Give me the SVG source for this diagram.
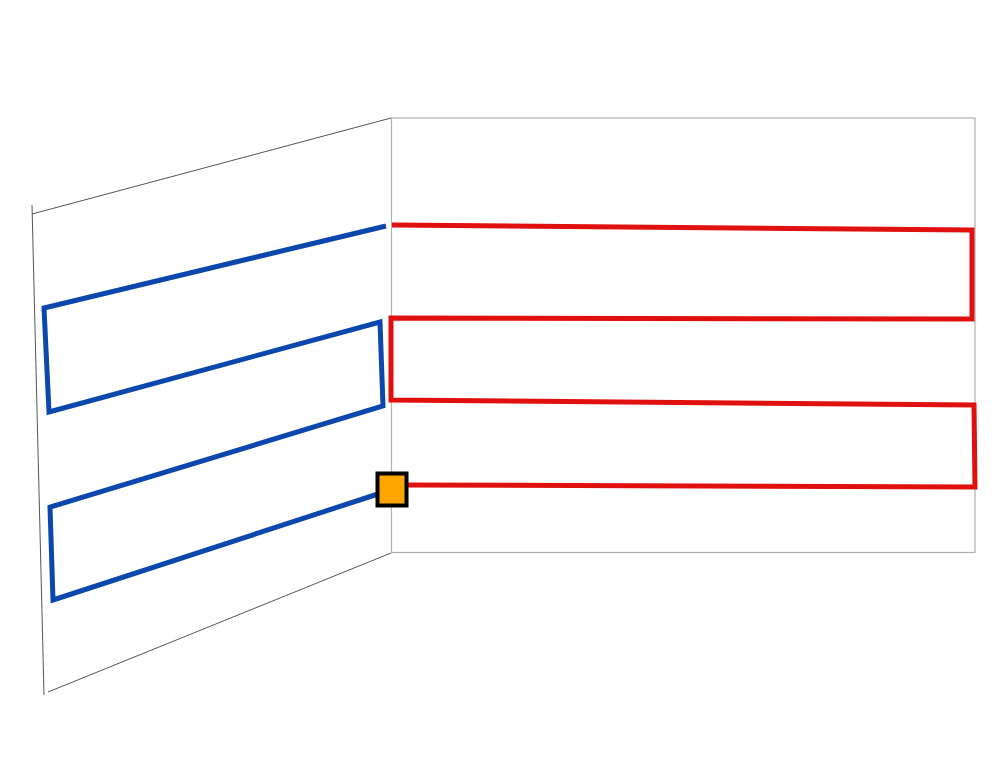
<svg xmlns="http://www.w3.org/2000/svg" width="1000" height="770" viewBox="0 0 1000 770">
<style>
.wall{fill:none;stroke:#555;stroke-width:1}
.wall2{fill:none;stroke:#b0b0b0;stroke-width:1.2}
.blue{fill:none;stroke:#0b47ad;stroke-width:5;stroke-linejoin:miter}
.red{fill:none;stroke:#e0100e;stroke-width:5;stroke-linejoin:miter}
</style>
<rect width="1000" height="770" fill="#fff"/>
<g id="left-wall">
<path class="wall" d="M32,214 L391,118"/>
<path class="wall" d="M32,205 L44,695"/>
<path class="wall" d="M48,692 L391,553"/>
</g>
<g id="right-wall">
<rect class="wall2" x="391.5" y="118" width="583.5" height="434.5"/>
</g>
<g id="pipes">
<path class="blue" d="M386,226 L44,308 L49,412 L380,322 L383,406 L50,507 L53,600 L378,494"/>
<path class="red" d="M392,225 L972,230 L972,319 L391,318 L391,400 L974,405 L975,487 L406,485"/>
</g>
<g id="junction">
<rect x="377.5" y="473.5" width="29" height="32" fill="#ffa500" stroke="#000" stroke-width="4"/>
</g>
</svg>
